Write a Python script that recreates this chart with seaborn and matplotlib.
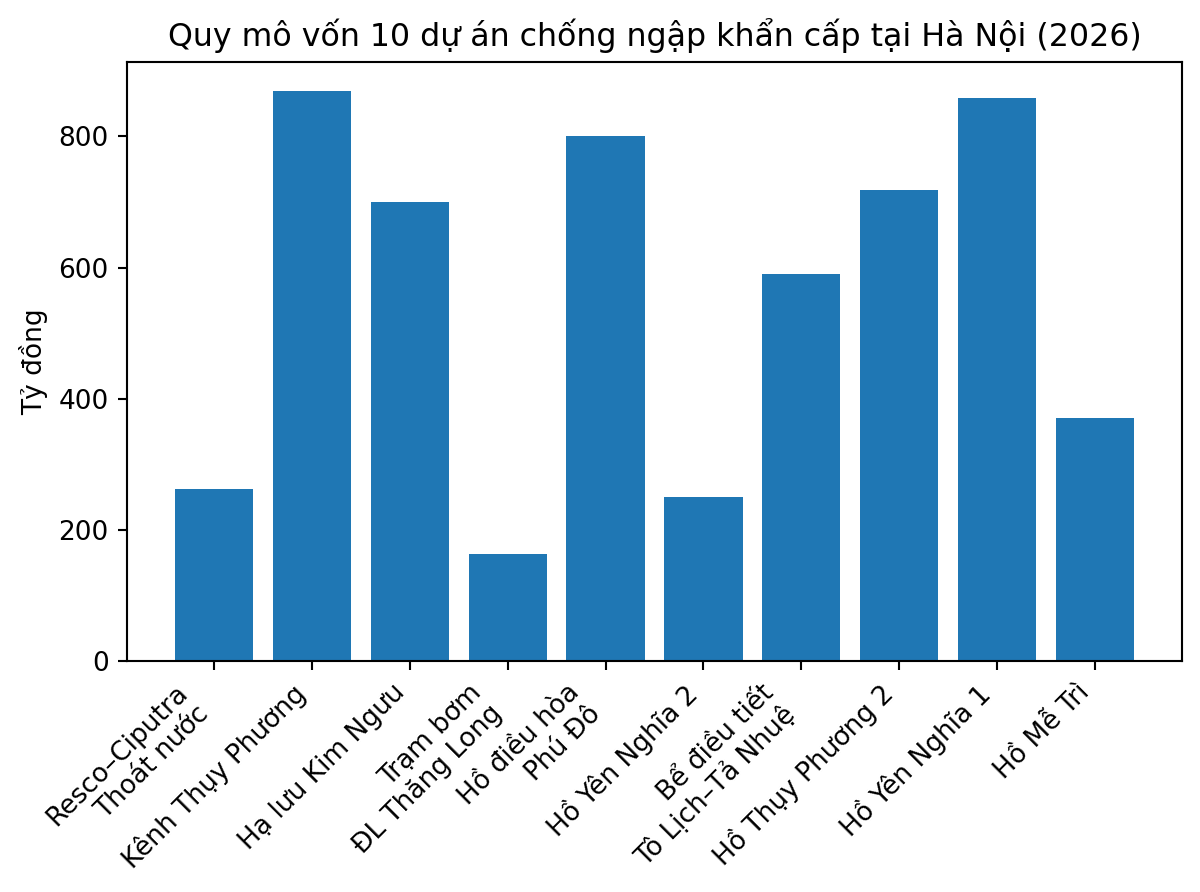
import matplotlib
matplotlib.use("Agg")
import matplotlib.pyplot as plt
import seaborn as sns
import pandas as pd

categories = [
    "Resco–Ciputra\nThoát nước",
    "Kênh Thụy Phương",
    "Hạ lưu Kim Ngưu",
    "Trạm bơm\nĐL Thăng Long",
    "Hồ điều hòa\nPhú Đô",
    "Hồ Yên Nghĩa 2",
    "Bể điều tiết\nTô Lịch–Tả Nhuệ",
    "Hồ Thụy Phương 2",
    "Hồ Yên Nghĩa 1",
    "Hồ Mễ Trì",
]
values = [263, 870, 700, 163, 800, 250, 590, 718, 858, 370]

title = "Quy mô vốn 10 dự án chống ngập khẩn cấp tại Hà Nội (2026)"
ylabel = "Tỷ đồng"

plt.rcParams['font.family'] = ['DejaVu Sans']

df = pd.DataFrame({"cat": categories, "val": values})

DPI = 190
fig, ax = plt.subplots(figsize=(1200 / DPI, 892 / DPI), dpi=DPI)
sns.barplot(data=df, x="cat", y="val", color="#1f77b4", saturation=1,
            width=0.8, ax=ax)

n = len(categories)
pad = 0.05 * (n - 1 + 0.8)
ax.set_xlim(-0.4 - pad, n - 1 + 0.4 + pad)

ax.set_title(title)
ax.set_ylabel(ylabel)
ax.set_xlabel("")
ax.set_xticks(range(n))
ax.set_xticklabels(categories, rotation=45, ha="right")

fig.subplots_adjust(left=127 / 1200, right=1182 / 1200,
                    top=1 - 62 / 892, bottom=1 - 661 / 892)
fig.savefig("out.png", dpi=DPI)
